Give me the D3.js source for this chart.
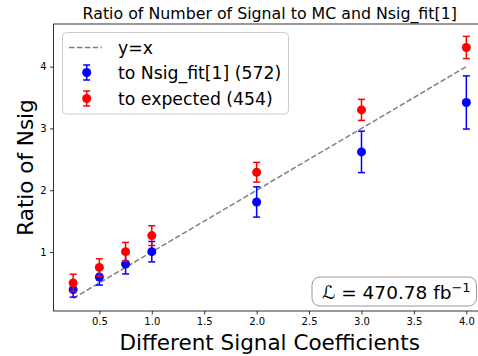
<!DOCTYPE html>
<html>
<head>
<meta charset="utf-8">
<script src="https://cdn.jsdelivr.net/npm/d3@7"></script>
<style>
  html, body { margin: 0; padding: 0; background: #fff; }
  svg { display: block; font-family: "DejaVu Sans", sans-serif; }
</style>
</head>
<body>
<svg id="chart" width="478" height="356"></svg>
<script>
// Signal coefficients and measured ratios
const coefficients = [0.25, 0.5, 0.75, 1.0, 2.0, 3.0, 4.0];
const ratioFit = [0.39, 0.595, 0.805, 1.005, 1.81, 2.62, 3.42];
const ratioFitErr = [0.12, 0.13, 0.16, 0.165, 0.245, 0.335, 0.43];
const ratioExpected = [0.50, 0.75, 1.005, 1.265, 2.29, 3.30, 4.31];
const ratioExpectedErr = [0.14, 0.14, 0.15, 0.16, 0.16, 0.17, 0.18];
const xTicks = [0.5, 1.0, 1.5, 2.0, 2.5, 3.0, 3.5, 4.0];
const yTicks = [1, 2, 3, 4];
const seriesNames = ["to Nsig_fit[1] (572)", "to expected (454)"];

const svg = d3.select("#chart");
const plotLeft = 53.5, plotRight = 486, plotTop = 24, plotBottom = 311;

const x = d3.scaleLinear().domain([0.0625, 4.1875]).range([plotLeft, plotRight]);
const y = d3.scaleLinear().domain([0.045, 4.69]).range([plotBottom, plotTop]);

// Axes
const xAxis = svg.append("g").attr("transform", `translate(0,${plotBottom})`)
  .call(d3.axisBottom(x).tickValues(xTicks).tickFormat(d3.format(".1f")).tickSizeOuter(0).tickSize(3.5).tickPadding(3.5));
const yAxis = svg.append("g").attr("transform", `translate(${plotLeft},0)`)
  .call(d3.axisLeft(y).tickValues(yTicks).tickFormat(d3.format("d")).tickSizeOuter(0).tickSize(3.5).tickPadding(3.5));
[xAxis, yAxis].forEach(a => {
  a.select(".domain").remove();
  a.selectAll("text").attr("font-size", 10).attr("fill", "#000").attr("font-family", "DejaVu Sans");
  a.selectAll("line").attr("stroke", "#000").attr("stroke-width", 0.8);
});

// Frame
svg.append("rect").attr("x", plotLeft).attr("y", plotTop).attr("width", plotRight - plotLeft).attr("height", plotBottom - plotTop)
  .attr("fill", "none").attr("stroke", "#000").attr("stroke-width", 0.8);

// y = x reference line
svg.append("line")
  .attr("x1", x(coefficients[0])).attr("y1", y(coefficients[0]))
  .attr("x2", x(coefficients[coefficients.length - 1])).attr("y2", y(coefficients[coefficients.length - 1]))
  .attr("stroke", "#808080").attr("stroke-width", 1.5).attr("stroke-dasharray", "5.5,2.4");

function drawSeries(vals, errs, color) {
  const g = svg.append("g");
  coefficients.forEach((c, i) => {
    const cx = x(c), lo = y(vals[i] - errs[i]), hi = y(vals[i] + errs[i]);
    g.append("line").attr("x1", cx).attr("x2", cx).attr("y1", lo).attr("y2", hi)
      .attr("stroke", color).attr("stroke-width", 1.5);
    [lo, hi].forEach(yy => g.append("line").attr("x1", cx - 3.5).attr("x2", cx + 3.5).attr("y1", yy).attr("y2", yy)
      .attr("stroke", color).attr("stroke-width", 1.5));
    g.append("circle").attr("cx", cx).attr("cy", y(vals[i])).attr("r", 4.5).attr("fill", color);
  });
}
drawSeries(ratioFit, ratioFitErr, "#0000ff");
drawSeries(ratioExpected, ratioExpectedErr, "#ff0000");

// Legend
const lg = svg.append("g");
lg.append("rect").attr("x", 62.5).attr("y", 32.5).attr("width", 226).attr("height", 81.5).attr("rx", 4)
  .attr("fill", "#fff").attr("fill-opacity", 0.8).attr("stroke", "#cccccc").attr("stroke-width", 1);
lg.append("line").attr("x1", 69).attr("x2", 102).attr("y1", 47.5).attr("y2", 47.5)
  .attr("stroke", "#808080").attr("stroke-width", 1.5).attr("stroke-dasharray", "5.5,2.4");
lg.append("text").attr("x", 118).attr("y", 53.5).attr("font-size", 17.3).text("y=x");
[["#0000ff", 72.5, seriesNames[0]], ["#ff0000", 98.5, seriesNames[1]]].forEach(([col, yy, label]) => {
  lg.append("line").attr("x1", 86.7).attr("x2", 86.7).attr("y1", yy - 7.5).attr("y2", yy + 7.5).attr("stroke", col).attr("stroke-width", 1.5);
  [yy - 7.5, yy + 7.5].forEach(t => lg.append("line").attr("x1", 83.2).attr("x2", 90.2).attr("y1", t).attr("y2", t).attr("stroke", col).attr("stroke-width", 1.5));
  lg.append("circle").attr("cx", 86.7).attr("cy", yy).attr("r", 4.5).attr("fill", col);
  lg.append("text").attr("x", 118).attr("y", yy + 6).attr("font-size", 17.3).text(label);
});

// Luminosity annotation
const ann = svg.append("g");
ann.append("rect").attr("x", 312).attr("y", 277).attr("width", 164.5).attr("height", 29).attr("rx", 8)
  .attr("fill", "#fff").attr("stroke", "#999").attr("stroke-width", 1);
const annText = ann.append("text").attr("x", 322).attr("y", 298.5).attr("font-size", 18.5);
annText.append("tspan").attr("font-style", "italic").text("ℒ");
annText.append("tspan").text(" = 470.78 fb");
annText.append("tspan").attr("dy", -7).attr("font-size", 13).text("−1");

// Titles
svg.append("text").attr("x", (plotLeft + plotRight) / 2).attr("y", 18.5).attr("text-anchor", "middle")
  .attr("font-size", 15.8).text("Ratio of Number of Signal to MC and Nsig_fit[1]");
svg.append("text").attr("x", 269.7).attr("y", 350).attr("text-anchor", "middle")
  .attr("font-size", 21.5).text("Different Signal Coefficients");
svg.append("text").attr("transform", `translate(33,167.5) rotate(-90)`).attr("text-anchor", "middle")
  .attr("font-size", 21.5).text("Ratio of Nsig");
</script>
</body>
</html>
